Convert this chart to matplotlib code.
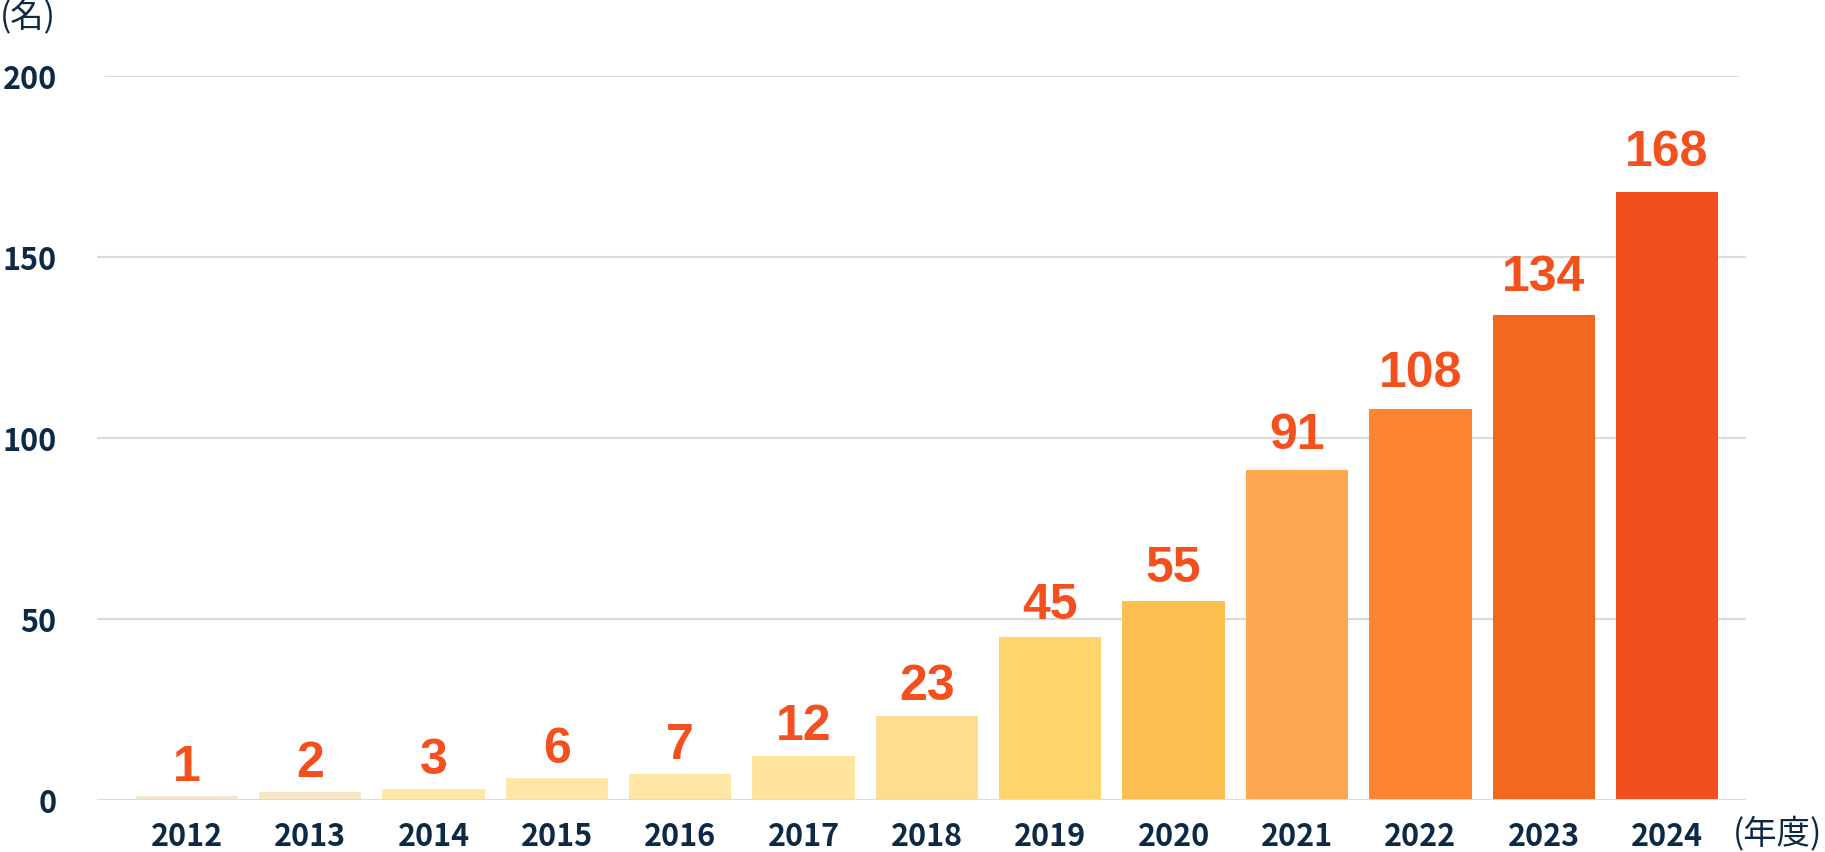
import matplotlib
matplotlib.use("Agg")
import matplotlib.pyplot as plt

# ---- data ----
years = ["2012", "2013", "2014", "2015", "2016", "2017", "2018",
         "2019", "2020", "2021", "2022", "2023", "2024"]
counts = [1, 2, 3, 6, 7, 12, 23, 45, 55, 91, 108, 134, 168]
bar_colors = ["#F3E6CF", "#F7E8C5", "#FEE8A8", "#FEE7A6", "#FEE6A4", "#FEE49F",
              "#FEDD90", "#FED46B", "#FEBF51", "#FFA650", "#FE8530", "#F3681F",
              "#F34E1E"]
y_ticks = [0, 50, 100, 150, 200]
y_unit_label = "(名)"
x_unit_label = "(年度)"

NAVY = "#0C2A46"
LABEL_RED = "#F4501E"
GRID = "#DADADA"

plt.rcParams['font.family'] = ['Noto Sans CJK JP', 'DejaVu Sans']

W, H = 1825, 853
fig = plt.figure(figsize=(W / 100, H / 100), dpi=100)
ax = fig.add_axes([97 / W, (H - 800.7) / H, (1746 - 97) / W, (800.7 - 76.7) / H])

x = list(range(len(years)))
ax.bar(x, counts, width=0.83, color=bar_colors, zorder=2, linewidth=0)

ax.set_xlim(-0.728, 12.64)
ax.set_ylim(0, 200)

# gridlines
for t in y_ticks:
    if t == 0:
        ax.axhline(t, color="#DCDCDC", linewidth=2.2, zorder=3)
    elif t == 200:
        ax.axhline(t, xmin=0.0055, xmax=0.995, color=GRID, linewidth=1.5, zorder=1)
    else:
        ax.axhline(t, color=GRID, linewidth=1.5, zorder=1)

for s in ax.spines.values():
    s.set_visible(False)

ax.set_yticks(y_ticks)
ax.set_yticklabels([str(t) for t in y_ticks])
ax.set_xticks(x)
ax.set_xticklabels(years)
ax.tick_params(axis='both', length=0)
ax.tick_params(axis='y', pad=29)
ax.tick_params(axis='x', pad=32.5)
for lab in ax.get_yticklabels():
    lab.set_fontsize(22)
    lab.set_fontweight('bold')
    lab.set_color(NAVY)
for lab in ax.get_xticklabels():
    lab.set_fontsize(22)
    lab.set_fontweight('bold')
    lab.set_color(NAVY)
    lab.set_verticalalignment('baseline')

# value labels (offset grows slightly with height, as in the reference)
for xi, v in zip(x, counts):
    off_px = 16 + 0.064 * v
    ax.annotate(str(v), (xi, v), xytext=(0, off_px * 0.72), textcoords='offset points',
                ha='center', va='baseline', fontsize=36, fontweight='bold',
                color=LABEL_RED, family=['Liberation Sans', 'DejaVu Sans'],
                annotation_clip=False)

# unit labels
fig.text(0 / W, (H - 18) / H, y_unit_label, ha='left', va='center',
         fontsize=24, color=NAVY)
fig.text(1733 / W, (H - 834) / H, x_unit_label, ha='left', va='center',
         fontsize=24, color=NAVY)

fig.savefig("out.png", dpi=100, facecolor="white")
